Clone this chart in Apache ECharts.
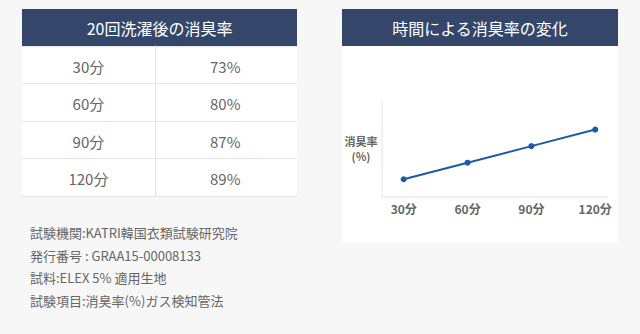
<!DOCTYPE html>
<html><head><meta charset="utf-8">
<script src="https://cdn.jsdelivr.net/npm/echarts@6/dist/echarts.min.js"></script>
<style>html,body{margin:0;padding:0;background:#f7f7f7}#c{width:640px;height:334px}</style>
</head><body><div id="c"></div>
<script>
const tableTitle = '20回洗濯後の消臭率';
const chartTitle = '時間による消臭率の変化';
const categories = ['30分', '60分', '90分', '120分'];
const minutes = [30, 60, 90, 120];
const tableRates = [73, 80, 87, 89];
const chartRates = [73, 80, 87, 94];
const yAxisName = '消臭率\n(%)';
const notes = [
  '試験機関:KATRI韓国衣類試験研究院',
  '発行番号 : GRAA15-00008133',
  '試料:ELEX 5% 適用生地',
  '試験項目:消臭率(%)ガス検知管法'
];

const FONT = '"Noto Sans CJK JP", "Noto Sans", sans-serif';
const NAVY = '#34476a';
const BLUE = '#1c5aa6';
const GREY_TXT = '#666';

// table cells built from the arrays (column -0.5 = time, 0.5 = rate)
const cellData = [], cellText = [];
categories.forEach((c, i) => {
  cellData.push([-0.5, i]); cellText.push(c);
  cellData.push([0.53, i]); cellText.push(tableRates[i] + '%');
});

const chart = echarts.init(document.getElementById('c'), null, {renderer: 'svg'});
chart.setOption({
  backgroundColor: '#f7f7f7',
  animation: false,
  textStyle: {fontFamily: FONT},
  graphic: [
    {type: 'rect', shape: {x: 342, y: 46, width: 276, height: 197}, style: {fill: '#fff'}, z: -10, silent: true},
    {type: 'rect', shape: {x: 22, y: 9, width: 275, height: 37}, style: {fill: NAVY}, silent: true},
    {type: 'rect', shape: {x: 342, y: 9, width: 276, height: 37}, style: {fill: NAVY}, silent: true},
    {type: 'text', x: 159.5, y: 27.5, style: {text: tableTitle, fill: '#fff', font: '16px ' + FONT, align: 'center', verticalAlign: 'middle'}},
    {type: 'text', x: 480, y: 27.5, style: {text: chartTitle, fill: '#fff', font: '16px ' + FONT, align: 'center', verticalAlign: 'middle'}}
  ].concat(notes.map((t, i) => ({
    type: 'text', x: 30, y: 232.5 + i * 22.5,
    style: {text: t, fill: GREY_TXT, font: '13px ' + FONT, align: 'left', verticalAlign: 'middle'}
  }))),
  grid: [
    {left: 22, top: 46, width: 275, height: 150, show: true, backgroundColor: '#fff', borderWidth: 0},
    {left: 382, top: 100, width: 226, height: 97}
  ],
  xAxis: [
    {gridIndex: 0, type: 'value', min: -1, max: 1.07,
     axisLine: {show: false}, axisTick: {show: false}, axisLabel: {show: false},
     splitLine: {show: false}},
    {gridIndex: 1, type: 'value', min: 19.8, max: 126,
     axisLine: {show: true, lineStyle: {color: '#ececec', width: 1.5}},
     axisTick: {show: false}, splitLine: {show: false},
     axisLabel: {customValues: minutes, formatter: v => categories[minutes.indexOf(v)],
                 color: GREY_TXT, fontSize: 12, fontWeight: 'bold', margin: 5}}
  ],
  yAxis: [
    {gridIndex: 0, type: 'category', data: categories, inverse: true, boundaryGap: true,
     axisLine: {show: true, onZero: true, lineStyle: {color: '#e4e4e4', width: 1}},
     axisTick: {show: false}, axisLabel: {show: false},
     splitLine: {show: true, interval: 0, lineStyle: {color: '#e4e4e4', width: 1}}},
    {gridIndex: 1, type: 'value', min: 65.5, max: 106.5,
     axisLine: {show: true, lineStyle: {color: '#ececec', width: 1.5}},
     axisTick: {show: false}, axisLabel: {show: false}, splitLine: {show: false},
     name: yAxisName, nameLocation: 'middle', nameRotate: 0, nameGap: 21,
     nameTextStyle: {align: 'center', color: GREY_TXT, fontSize: 11, fontWeight: 'bold', lineHeight: 15}}
  ],
  series: [
    {type: 'custom', xAxisIndex: 0, yAxisIndex: 0, data: cellData,
     renderItem: (params, api) => {
       const p = api.coord([api.value(0), api.value(1)]);
       return {type: 'text', x: p[0], y: p[1] + 1.5,
               style: {text: cellText[params.dataIndex], fill: GREY_TXT, font: '15px ' + FONT,
                       align: 'center', verticalAlign: 'middle'}};
     }},
    {type: 'line', xAxisIndex: 1, yAxisIndex: 1,
     data: minutes.map((m, i) => [m, chartRates[i]]),
     lineStyle: {color: BLUE, width: 2}, itemStyle: {color: BLUE},
     symbol: 'circle', symbolSize: 6, showSymbol: true}
  ]
});
</script></body></html>
